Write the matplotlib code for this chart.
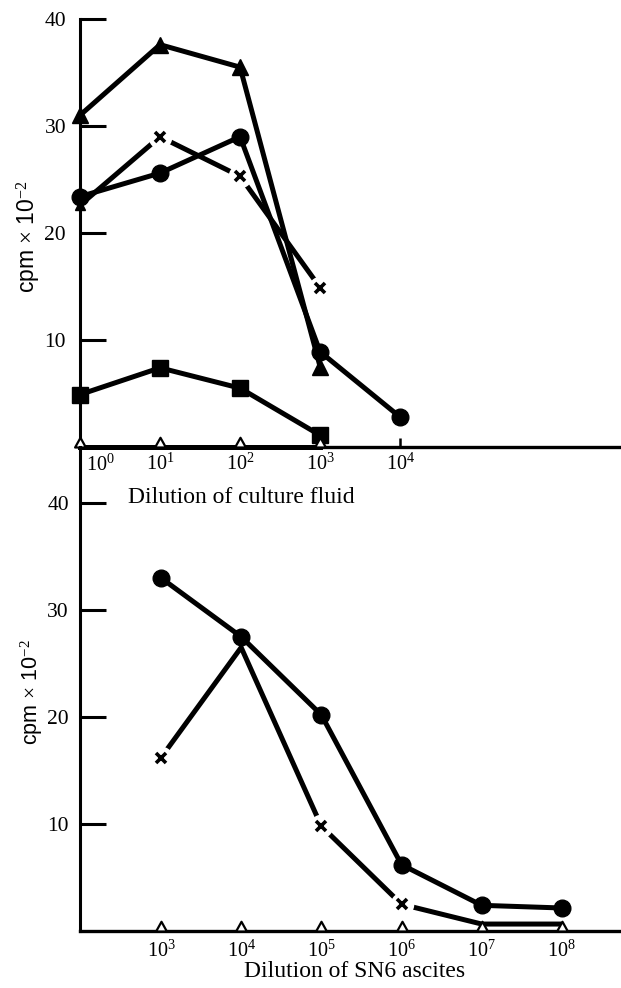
import matplotlib.pyplot as plt
from matplotlib.path import Path

plt.rcParams['font.family'] = ['Liberation Serif', 'DejaVu Serif']
plt.rcParams['mathtext.fontset'] = 'custom'
plt.rcParams['mathtext.rm'] = 'Liberation Serif'
plt.rcParams['mathtext.it'] = 'Liberation Serif:italic'

# top panel - dilution of culture fluid
top_dil = [1, 10, 100, 1000, 10000]
top_tri = [31.0, 37.6, 35.5, 7.5]
top_circ = [23.4, 25.6, 29.0, 8.9, 2.8]
top_cross = [22.6, 29.0, 25.3, 14.9]
top_sq = [4.9, 7.4, 5.5, 1.1]
top_open = [0, 0, 0, 0]
top_ticklabels = ['', r'$10^1$', r'$10^2$', r'$10^3$', r'$10^4$']

# bottom panel - dilution of SN6 ascites
bot_dil = [1e3, 1e4, 1e5, 1e6, 1e7, 1e8]
bot_circ = [33.0, 27.5, 20.2, 6.2, 2.4, 2.15]
bot_cross = [16.2, 26.5, 9.8, 2.5, 0.65, 0.65]
bot_open = [0, 0, 0, 0, 0, 0]
bot_ticklabels = [r'$10^3$', r'$10^4$', r'$10^5$', r'$10^6$', r'$10^7$', r'$10^8$']

yticks = [10, 20, 30, 40]

LW = 3.6
# open triangle sitting on the baseline
tri_base = Path([(-0.5, 0), (0.5, 0), (0, 0.9), (-0.5, 0)],
                [Path.MOVETO, Path.LINETO, Path.LINETO, Path.CLOSEPOLY])

fig = plt.figure(figsize=(6.21, 9.88), dpi=100)
W, H = 621, 988


def setup(ax, ypad):
    ax.set_xscale('log')
    ax.patch.set_visible(False)
    ax.spines['top'].set_visible(False)
    ax.spines['right'].set_visible(False)
    ax.spines['left'].set_linewidth(2.2)
    ax.spines['bottom'].set_linewidth(2.4)
    ax.minorticks_off()
    ax.set_yticks(yticks)
    ax.tick_params(axis='y', direction='in', length=19, width=2.2, labelsize=15.5, pad=ypad)


def crosses(ax, x, y, skip_gap):
    # line with white gaps around the x markers
    ax.plot(x, y, color='black', lw=LW, zorder=2, clip_on=False, solid_capstyle='butt')
    gi = [i for i in range(len(x)) if i not in skip_gap]
    ax.plot([x[i] for i in gi], [y[i] for i in gi], ls='none', marker='o', ms=17,
            mfc='white', mec='none', zorder=2.3, clip_on=False)
    ax.plot([x[i] for i in gi], [y[i] for i in gi], ls='none', marker='x', ms=7.5,
            mew=2.6, color='black', zorder=2.6, clip_on=False)


# ---------- top ----------
ax1 = fig.add_axes([80 / W, 541 / H, 541 / W, 428 / H])
setup(ax1, 10)
ax1.set_xlim(1, 10 ** 6.76)
ax1.set_ylim(0, 40)

crosses(ax1, top_dil[:4], top_cross, skip_gap=[0])
ax1.plot(top_dil[:1], top_cross[:1], ls='none', marker='^', ms=7, color='black',
         zorder=5, clip_on=False)
ax1.plot(top_dil[:4], top_tri, color='black', lw=LW, marker='^', ms=12, zorder=4, clip_on=False)
ax1.plot(top_dil, top_circ, color='black', lw=LW, marker='o', ms=12, zorder=4, clip_on=False)
ax1.plot(top_dil[:4], top_sq, color='black', lw=LW, marker='s', ms=11, zorder=4, clip_on=False)
ax1.plot(top_dil[:4], top_open, color='black', lw=LW, marker=tri_base, ms=14, mfc='white',
         mew=1.6, zorder=4.5, clip_on=False)

ax1.set_xticks(top_dil)
ax1.set_xticklabels(top_ticklabels)
ax1.tick_params(axis='x', direction='in', length=6.5, width=1.8, labelsize=14.5, pad=5)
ax1.annotate(r'$10^0$', xy=(top_dil[0], 0), xycoords='data', xytext=(15, -5.5),
             textcoords='offset points', ha='center', va='top', fontsize=14.5)

fig.text(128 / W, 1 - 497 / H, 'Dilution of culture fluid', ha='left', va='center', fontsize=17)
fig.text(29 / W, 1 - 237 / H, r'cpm $\times$ 10$^{-2}$', rotation=90, ha='center', va='center',
         fontsize=16.5, family=['Liberation Sans', 'DejaVu Sans'])

# ---------- bottom ----------
ax2 = fig.add_axes([80 / W, 57 / H, 540 / W, 484 / H])
setup(ax2, 8)
ax2.set_xlim(10 ** 1.99, 10 ** 8.725)
ax2.set_ylim(0, 484 / 10.7)

crosses(ax2, bot_dil, bot_cross, skip_gap=[1, 4, 5])
ax2.plot(bot_dil, bot_circ, color='black', lw=LW, marker='o', ms=12, zorder=4, clip_on=False)
ax2.plot(bot_dil, bot_open, ls='none', marker=tri_base, ms=14, mfc='white', mec='black',
         mew=1.6, zorder=4.5, clip_on=False)

ax2.set_xticks(bot_dil)
ax2.set_xticklabels(bot_ticklabels)
ax2.tick_params(axis='x', length=0, labelsize=14.5, pad=7)

fig.text(355 / W, 1 - 971 / H, 'Dilution of SN6 ascites', ha='center', va='center', fontsize=17)
fig.text(32 / W, 1 - 692 / H, r'cpm $\times$ 10$^{-2}$', rotation=90, ha='center', va='center',
         fontsize=15.5, family=['Liberation Sans', 'DejaVu Sans'])

fig.savefig('out.png', dpi=100)
